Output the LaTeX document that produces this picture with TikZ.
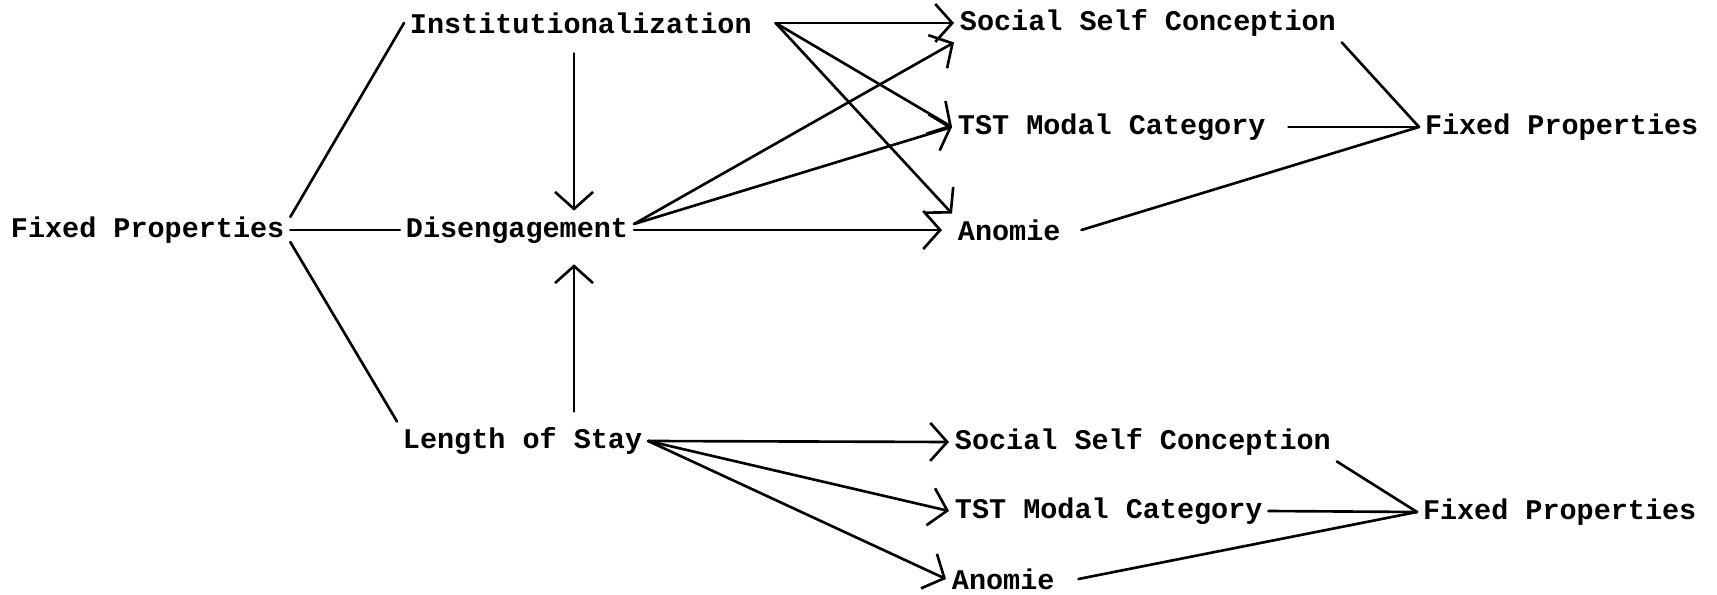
\documentclass[tikz,border=0pt]{standalone}
\usepackage{fontspec}
\setmonofont{Liberation Mono}
\usepackage{tikz}
\usetikzlibrary{arrows.meta}

\begin{document}
\begin{tikzpicture}[x=0.1mm,y=-0.1mm,line cap=round,line join=round,
  lbl/.style={anchor=west,inner sep=1.5pt,font=\ttfamily\bfseries\fontsize{8.1}{10}\selectfont},
  link/.style={line width=0.75pt},
  arr/.style={link,-{Straight Barb[length=1.7mm,width=3.8mm,line width=0.75pt]}}]
\useasboundingbox (0,0) rectangle (1717,595);
% left part
\node[lbl] (fpl) at (5,230) {Fixed Properties};
\node[lbl] (inst) at (404,23) {Institutionalization};
\node[lbl] (dis) at (400,230) {Disengagement};
\node[lbl] (los) at (397,441) {Length of Stay};
\coordinate (vx) at (574,0);
\coordinate (instout) at ([xshift=1.8mm]inst.east);
% upper outcomes
\node[lbl] (ssca) at (954,23) {Social Self Conception};
\node[lbl] (tsta) at (952,127) {TST Modal Category};
\node[lbl] (anoa) at (952,230) {Anomie};
\node[lbl] (fpra) at (1419,127) {Fixed Properties};
% lower outcomes
\node[lbl] (sscb) at (949,442) {Social Self Conception};
\node[lbl] (tstb) at (949,511) {TST Modal Category};
\node[lbl] (anob) at (946,579) {Anomie};
\node[lbl] (fprb) at (1417,512) {Fixed Properties};

\draw[link] (fpl.east) ++(0,-13) -- (inst.west);
\draw[link] (fpl.east) -- (dis.west);
\draw[link] (fpl.east) ++(0,12) -- (los.north west);
\draw[arr,shorten <=1.4mm] (vx |- inst.south) -- (vx |- dis.north);
\draw[arr,shorten <=1mm,shorten >=1.5mm] (vx |- los.north) -- (vx |- dis.south);

\draw[arr] (instout) -- (ssca.west);
\draw[arr] (instout) -- (tsta.west);
\draw[arr] (instout) -- (anoa.north west);
\draw[arr] ([yshift=0.6mm]dis.east) -- (ssca.south west);
\draw[arr] ([yshift=0.6mm]dis.east) -- (tsta.west);
\draw[arr,shorten >=1mm] (dis.east) -- (anoa.west);
\draw[link] (ssca.south east) -- (fpra.west);
\draw[link] ([xshift=1.7mm]tsta.east) -- (fpra.west);
\draw[link] ([xshift=1.5mm]anoa.east) -- (fpra.west);

\draw[arr] (los.east) -- (sscb.west);
\draw[arr] (los.east) -- (tstb.west);
\draw[arr] (los.east) -- (anob.west);
\draw[link] (sscb.south east) -- (fprb.west);
\draw[link] (tstb.east) -- (fprb.west);
\draw[link] ([xshift=1.8mm]anob.east) -- (fprb.west);
\end{tikzpicture}
\end{document}
